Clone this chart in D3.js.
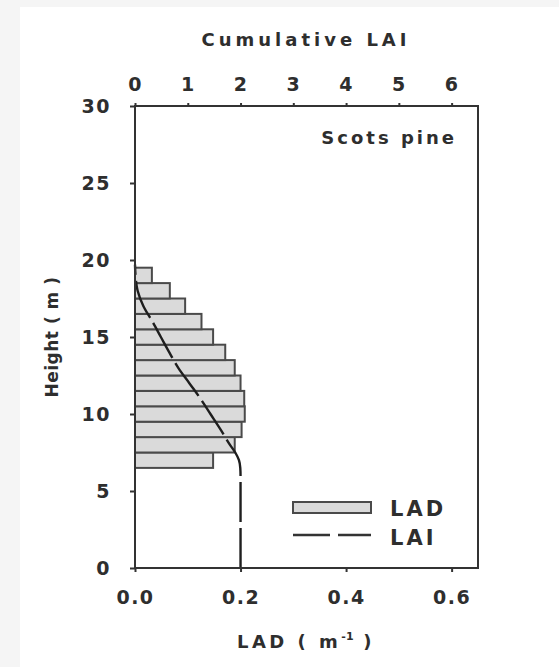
<!DOCTYPE html>
<html>
<head>
<meta charset="utf-8">
<script src="https://cdn.jsdelivr.net/npm/d3@7"></script>
<style>
  html, body { margin: 0; padding: 0; background: #f5f5f5; }
  svg { display: block; }
  text { font-family: "DejaVu Sans", Verdana, sans-serif; font-weight: bold; fill: #2e2e2e; }
</style>
</head>
<body>
<svg id="chart" width="559" height="667"></svg>
<script>
// Leaf area density per 1 m layer (layer centre height, m)
const layerHeights = [7, 8, 9, 10, 11, 12, 13, 14, 15, 16, 17, 18, 19];
const ladValues    = [0.148, 0.189, 0.202, 0.208, 0.207, 0.200, 0.189, 0.171, 0.148, 0.126, 0.095, 0.066, 0.032];

// Cumulative leaf area index profile, summed from the crown top downwards
const laiHeights = [0, 6, 6.5, 7, 7.5, 8, 9, 10, 11, 12, 13, 14, 15, 16, 17, 18, 19, 19.7];
const laiValues  = [2.0, 2.0, 1.995, 1.97, 1.90, 1.80, 1.62, 1.43, 1.24, 1.03, 0.82, 0.65, 0.49, 0.33, 0.16, 0.05, 0.01, 0];

const ladTicks    = [0, 0.2, 0.4, 0.6];
const laiTicks    = [0, 1, 2, 3, 4, 5, 6];
const heightTicks = [0, 5, 10, 15, 20, 25, 30];

const speciesLabel = "Scots pine";

const svg = d3.select("#chart");

// white page panel
svg.append("rect").attr("x", 20).attr("y", 7).attr("width", 539).attr("height", 660).attr("fill", "#ffffff");

const plotLeft = 135, plotRight = 478, plotTop = 106, plotBottom = 568;

const x    = d3.scaleLinear().domain([0, 0.65]).range([plotLeft, plotRight]);
const xTop = d3.scaleLinear().domain([0, 6.5]).range([plotLeft, plotRight]);
const y    = d3.scaleLinear().domain([0, 30]).range([plotBottom, plotTop]);

const axisColor = "#333";

// LAD bars, one per 1 m layer
svg.append("g").selectAll("rect")
  .data(layerHeights.map((h, i) => ({ h, v: ladValues[i] })))
  .join("rect")
  .attr("x", x(0))
  .attr("y", d => y(d.h + 0.5))
  .attr("width", d => x(d.v) - x(0))
  .attr("height", d => y(d.h - 0.5) - y(d.h + 0.5))
  .attr("fill", "#dadada")
  .attr("stroke", "#4a4a4a")
  .attr("stroke-width", 2);

// cumulative LAI curve on the top axis scale
const laiLine = d3.line()
  .x(d => xTop(d[1]))
  .y(d => y(d[0]))
  .curve(d3.curveMonotoneY);

svg.append("path")
  .datum(laiHeights.map((h, i) => [h, laiValues[i]]))
  .attr("d", laiLine)
  .attr("fill", "none")
  .attr("stroke", "#1e1e1e")
  .attr("stroke-width", 2.4)
  .attr("stroke-dasharray", "40,6");

// frame
svg.append("rect")
  .attr("x", plotLeft).attr("y", plotTop)
  .attr("width", plotRight - plotLeft).attr("height", plotBottom - plotTop)
  .attr("fill", "none").attr("stroke", axisColor).attr("stroke-width", 2);

// axes
const styleAxis = g => {
  g.select(".domain").remove();
  g.selectAll(".tick line").attr("stroke", axisColor).attr("stroke-width", 2);
  g.selectAll(".tick text")
    .attr("fill", "#2e2e2e")
    .style("font-size", "19px")
    .style("font-family", "'DejaVu Sans', Verdana, sans-serif")
    .style("font-weight", "bold")
    .style("letter-spacing", "1.5px");
};

svg.append("g")
  .attr("transform", `translate(0,${plotBottom})`)
  .call(d3.axisBottom(x).tickValues(ladTicks).tickFormat(d3.format(".1f")).tickSize(4).tickPadding(19))
  .call(styleAxis);

svg.append("g")
  .attr("transform", `translate(0,${plotTop})`)
  .call(d3.axisTop(xTop).tickValues(laiTicks).tickFormat(d3.format("d")).tickSize(3).tickPadding(12))
  .call(styleAxis);

svg.append("g")
  .attr("transform", `translate(${plotLeft},0)`)
  .call(d3.axisLeft(y).tickValues(heightTicks).tickFormat(d3.format("d")).tickSize(5).tickPadding(19))
  .call(styleAxis);

// axis titles
svg.append("text")
  .attr("x", 306).attr("y", 46)
  .attr("text-anchor", "middle")
  .style("font-size", "18px")
  .style("letter-spacing", "4px")
  .text("Cumulative LAI");

const xTitle = svg.append("text")
  .attr("x", 306).attr("y", 648)
  .attr("text-anchor", "middle")
  .style("font-size", "18px")
  .style("letter-spacing", "3.5px");
xTitle.append("tspan").text("LAD ( m");
xTitle.append("tspan").attr("dy", -8).style("font-size", "11px").style("letter-spacing", "0px").text("-1");
xTitle.append("tspan").attr("dy", 8).text(" )");

svg.append("text")
  .attr("transform", `translate(58,${(plotTop + plotBottom) / 2}) rotate(-90)`)
  .attr("text-anchor", "middle")
  .style("font-size", "17px")
  .style("letter-spacing", "0.5px")
  .text("Height ( m )");

// species label
svg.append("text")
  .attr("x", 457).attr("y", 144)
  .attr("text-anchor", "end")
  .style("font-size", "18px")
  .style("letter-spacing", "3px")
  .text(speciesLabel);

// legend
const legend = svg.append("g");
legend.append("rect")
  .attr("x", 293).attr("y", 502).attr("width", 78).attr("height", 11)
  .attr("fill", "#dadada").attr("stroke", "#4a4a4a").attr("stroke-width", 2);
legend.append("line")
  .attr("x1", 293).attr("x2", 371).attr("y1", 535).attr("y2", 535)
  .attr("stroke", "#333").attr("stroke-width", 2.4).attr("stroke-dasharray", "37,8");
legend.append("text").attr("x", 390).attr("y", 516)
  .style("font-size", "21px").style("letter-spacing", "3px").text("LAD");
legend.append("text").attr("x", 390).attr("y", 545)
  .style("font-size", "21px").style("letter-spacing", "3px").text("LAI");
</script>
</body>
</html>
